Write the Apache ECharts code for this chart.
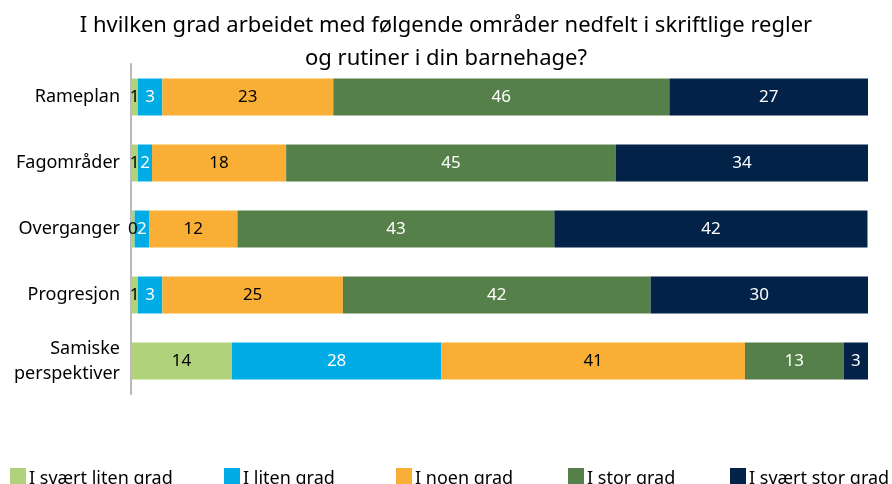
<!DOCTYPE html>
<html>
<head>
<meta charset="utf-8">
<script src="https://cdn.jsdelivr.net/npm/echarts@6/dist/echarts.min.js"></script>
<style>
html,body{margin:0;padding:0;background:#fff;}
#main{width:892px;height:484px;}
</style>
</head>
<body>
<div id="main"></div>
<script>
// kategorier (ovenfra og ned)
var categories = ['Rameplan', 'Fagområder', 'Overganger', 'Progresjon', 'Samiske\nperspektiver'];
var names = ['I svært liten grad', 'I liten grad', 'I noen grad', 'I stor grad', 'I svært stor grad'];

// prosentverdier lest av figuren
var svaertLiten = [0.95, 0.95, 0.49, 0.95, 13.7];
var liten = [3.3, 1.9, 1.95, 3.3, 28.4];
var noen = [23.2, 18.2, 12.0, 24.5, 41.2];
var stor = [45.6, 44.75, 43.0, 41.75, 13.4];
var svaertStor = [26.95, 34.2, 42.49, 29.5, 3.3];

var colors = ['#afd27a', '#00ace6', '#f9af35', '#568049', '#022248'];
var labelColors = ['#000', '#fff', '#000', '#fff', '#fff'];
var legendLeft = [5, 219, 391, 563, 725];

var font = 'Noto Sans';

function mkSeries(i, data) {
    return {
        name: names[i],
        type: 'bar',
        stack: 'total',
        barWidth: 37,
        data: data,
        itemStyle: { color: colors[i] },
        label: {
            show: true,
            position: 'inside',
            color: labelColors[i],
            fontFamily: font,
            fontSize: 17,
            formatter: function (p) { return Math.round(p.value); }
        }
    };
}

// en legende per serie, for å treffe plasseringene
var legends = [];
for (var i = 0; i < names.length; i++) {
    legends.push({
        data: [names[i]],
        left: legendLeft[i],
        top: 463,
        itemWidth: 16,
        itemHeight: 21,
        itemGap: 0,
        icon: 'rect',
        textStyle: { fontFamily: font, fontSize: 18, color: '#000', padding: [0, 0, 0, -2] }
    });
}

var option = {
    animation: false,
    title: {
        text: 'I hvilken grad arbeidet med følgende områder nedfelt i skriftlige regler\nog rutiner i din barnehage?',
        left: 'center',
        top: 4,
        textStyle: { fontFamily: font, fontSize: 22, fontWeight: 'normal', color: '#000', lineHeight: 33 }
    },
    legend: legends,
    grid: { left: 131, right: 24, top: 64, height: 330 },
    xAxis: {
        type: 'value',
        min: 0,
        max: 100,
        show: false
    },
    yAxis: {
        type: 'category',
        inverse: true,
        data: categories,
        axisLine: { show: true, lineStyle: { color: '#b9b9bd', width: 2 } },
        axisTick: { show: false },
        axisLabel: {
            fontFamily: font,
            fontSize: 18,
            color: '#000',
            margin: 11,
            align: 'right',
            lineHeight: 25
        }
    },
    series: [
        mkSeries(0, svaertLiten),
        mkSeries(1, liten),
        mkSeries(2, noen),
        mkSeries(3, stor),
        mkSeries(4, svaertStor)
    ]
};

var myChart = echarts.init(document.getElementById('main'));
myChart.setOption(option);
</script>
</body>
</html>
